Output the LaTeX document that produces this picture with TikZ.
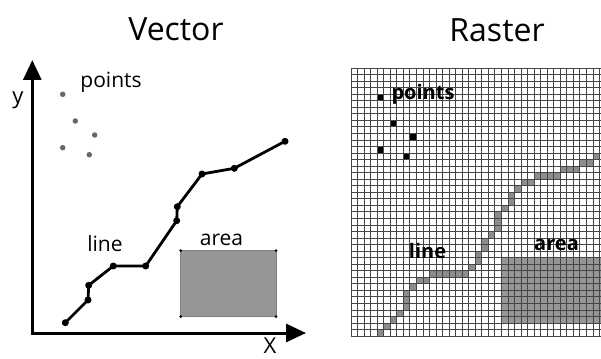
\documentclass[tikz,border=0pt]{standalone}
\usepackage{fontspec}
\setmainfont{Open Sans}
\usetikzlibrary{arrows.meta}
\definecolor{dotgray}{RGB}{104,104,104}
\definecolor{areagray}{RGB}{150,150,150}
\definecolor{areaedge}{RGB}{128,128,128}
\definecolor{cellgray}{RGB}{140,140,140}
\definecolor{gridgray}{RGB}{70,70,70}
\begin{document}
\begin{tikzpicture}[x=1pt,y=-1pt,
  axisline/.style={line width=3pt,{Triangle[length=20pt,width=18pt]}-{Triangle[length=20pt,width=18pt]}},
  vline/.style={line width=2.8pt,line join=round},
  vdot/.style={circle,fill=black,inner sep=0pt,minimum size=7pt},
  gdot/.style={circle,fill=dotgray,inner sep=0pt,minimum size=5.5pt},
  cdot/.style={circle,fill=black,inner sep=0pt,minimum size=3pt},
  title/.style={font=\fontsize{32}{36}\selectfont,anchor=base},
  lab/.style={font=\fontsize{21}{25}\selectfont,anchor=base},
  rlab/.style={font=\bfseries\fontsize{20}{24}\selectfont,anchor=base},
  gline/.style={draw=gridgray,line width=0.85pt},
  rcell/.style={fill=cellgray},
  rblack/.style={fill=black}]
\useasboundingbox (0,0) rectangle (601,358);
\def\cs{6.54}
% ---------------- Vector ----------------
\node[title] (tv) at (176,41) {Vector};
\coordinate (ytip) at (32.3,60);
\coordinate (O) at (32.3,333);
\coordinate (xtip) at (306,333);
\draw[axisline] (ytip) -- (O) -- (xtip);
\node[font=\fontsize{22}{26}\selectfont,anchor=base] (ylab) at (18,104) {y};
\node[font=\fontsize{22}{26}\selectfont,anchor=base] (xlab) at (270,353) {X};
\node[lab] (vpoints) at (111,88) {points};
\node[gdot] (g1) at (62.7,94.3) {};
\node[gdot] (g2) at (75.3,121) {};
\node[gdot] (g3) at (94.7,135) {};
\node[gdot] (g4) at (62.7,147.7) {};
\node[gdot] (g5) at (89.3,154.7) {};
\coordinate (p1) at (65.3,322.7);
\coordinate (p2) at (88,300);
\coordinate (p3) at (88.7,285.3);
\coordinate (p4) at (113.3,266);
\coordinate (p5) at (145.7,266);
\coordinate (p6) at (176.7,220.7);
\coordinate (p7) at (177.3,206.7);
\coordinate (p8) at (202,174);
\coordinate (p9) at (234.3,168.3);
\coordinate (p10) at (285,141.3);
\draw[vline] (p1) -- (p2) -- (p3) -- (p4) -- (p5) -- (p6) -- (p7) -- (p8) -- (p9) -- (p10);
\foreach \k in {1,...,10} \node[vdot] (d\k) at (p\k) {};
\node[lab] (vline) at (105,251.5) {line};
\node[lab] (varea) at (221.5,245) {area};
\coordinate (a1) at (180.7,250.7);
\coordinate (a2) at (276,250.7);
\coordinate (a3) at (276,316.7);
\coordinate (a4) at (180.7,316.7);
\filldraw[fill=areagray,draw=areaedge,line width=0.6pt] (a1) -- (a2) -- (a3) -- (a4) -- cycle;
\foreach \k in {1,...,4} \node[cdot] (c\k) at (a\k) {};
% ---------------- Raster ----------------
\node[title] (tr) at (497,42) {Raster};
\begin{scope}
\clip (351,68) rectangle (601,{68+41*\cs});
\fill[areagray] ({351+23*\cs},{68+29*\cs}) rectangle (601,{68+39*\cs});
\foreach \c/\r in {4/40,5/39,6/38,7/37,8/36,8/35,8/34,9/33,10/32,11/32,
  12/31,13/31,14/31,15/31,16/31,17/31,18/30,19/29,19/28,20/27,20/26,21/25,
  22/24,22/23,22/22,23/21,24/20,24/19,25/18,26/17,27/17,28/16,29/16,30/16,31/16,
  32/15,33/15,34/15,35/14,36/14,37/13}
  \fill[rcell] ({351+\c*\cs},{68+\r*\cs}) rectangle ++(\cs,\cs);
\foreach \c/\r in {4/4,6/8,9/10,4/12,8/13}
  \fill[rblack] ({351+\c*\cs},{68+\r*\cs}) rectangle ++(\cs,\cs);
\foreach \i in {0,...,38} \draw[gline] ({351+\i*\cs},68) -- ({351+\i*\cs},{68+41*\cs});
\foreach \j in {0,...,41} \draw[gline] (351,{68+\j*\cs}) -- (601,{68+\j*\cs});
\end{scope}
\node[rlab] (rpoints) at (423,100) {points};
\node[rlab] (rline) at (427.5,258.5) {line};
\node[rlab] (rarea) at (556.5,250) {area};
\end{tikzpicture}
\end{document}
